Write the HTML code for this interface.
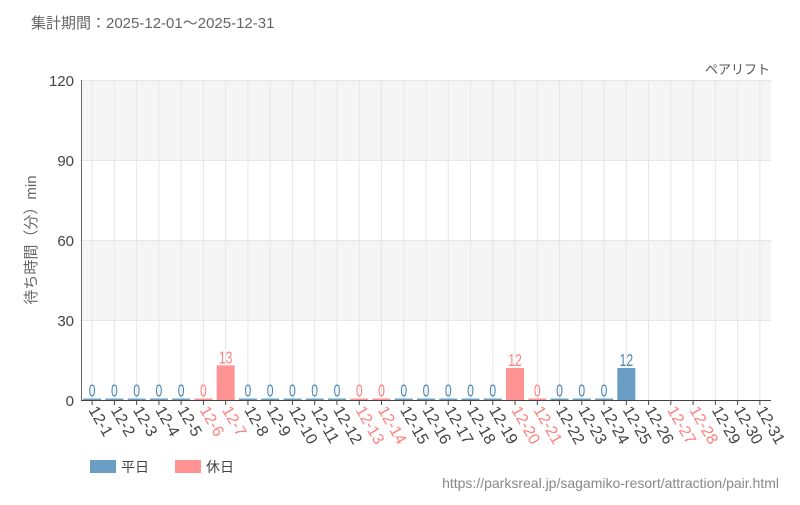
<!DOCTYPE html>
<html><head><meta charset="utf-8">
<style>
body{margin:0;background:#fff;width:800px;height:500px;overflow:hidden}
svg{font-family:"Liberation Sans","Noto Sans CJK JP",sans-serif}
</style></head><body>
<svg id="s" width="800" height="500" xmlns="http://www.w3.org/2000/svg">
<text x="31" y="28" font-size="15" fill="#666">集計期間：2025-12-01～2025-12-31</text>
<text x="770" y="74" font-size="13" fill="#555" text-anchor="end">ペアリフト</text>
<rect x="81" y="80" width="690" height="80" fill="#f5f5f5"/>
<rect x="81" y="240" width="690" height="80" fill="#f5f5f5"/>
<g stroke="#e6e6e6" stroke-width="1">
<line x1="81" x2="771" y1="80.5" y2="80.5"/>
<line x1="81" x2="771" y1="160.5" y2="160.5"/>
<line x1="81" x2="771" y1="240.5" y2="240.5"/>
<line x1="81" x2="771" y1="320.5" y2="320.5"/>
</g>
<g id="g"></g>
<line x1="81.5" x2="81.5" y1="80" y2="400" stroke="#666"/>
<line x1="81" x2="771" y1="400.5" y2="400.5" stroke="#444"/>
<g font-size="15" fill="#444" text-anchor="end">
<text x="74" y="86">120</text><text x="74" y="166">90</text><text x="74" y="246">60</text><text x="74" y="326">30</text><text x="74" y="406">0</text>
</g>
<text transform="translate(36,240) rotate(-90)" font-size="15" fill="#666" text-anchor="middle">待ち時間（分）min</text>
<rect x="90" y="460" width="26" height="13" fill="#6a9ec5"/>
<text x="121" y="472" font-size="14" fill="#444">平日</text>
<rect x="175" y="460" width="26" height="13" fill="#ff9393"/>
<text x="206" y="472" font-size="14" fill="#444">休日</text>
<text x="779" y="488" font-size="14" fill="#888" text-anchor="end">https://parksreal.jp/sagamiko-resort/attraction/pair.html</text>
</svg>
<script>
var g=document.getElementById('g'),h='';
var hol=[6,7,13,14,20,21,27,28];
var vals={};for(var i=1;i<=24;i++)vals[i]=0;vals[7]=13;vals[20]=12;vals[25]=12;
var w=690/31;
for(var d=1;d<=31;d++){
 var cx=81+(d-0.5)*w, isH=hol.indexOf(d)>=0;
 var col=isH?'#ff9393':'#6a9ec5', tc=isH?'#ff8080':'#444';
 h+='<line x1="'+cx+'" x2="'+cx+'" y1="80" y2="400" stroke="#e6e6e6"/>';
 h+='<line x1="'+cx+'" x2="'+cx+'" y1="400" y2="405" stroke="#444"/>';
 if(d in vals){
  var v=vals[d],bh=Math.max(v*320/120,1.5),ty=400-bh-2;
  h+='<rect x="'+(cx-9)+'" y="'+(400-bh)+'" width="18" height="'+bh+'" fill="'+col+'"/>';
  h+='<text x="0" y="0" font-size="18" text-anchor="middle" fill="'+(isH?'#ff8080':'#4a86b8')+'" transform="translate('+cx+','+ty+') scale(0.68,1)">'+v+'</text>';
 }
 h+='<text transform="translate('+(cx-4)+',410) rotate(60)" font-size="16" fill="'+tc+'">12-'+d+'</text>';
}
g.innerHTML=h;
</script>
</body></html>
